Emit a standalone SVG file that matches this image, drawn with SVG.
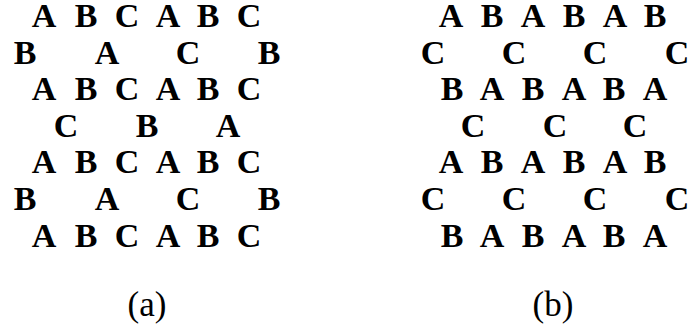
<svg xmlns="http://www.w3.org/2000/svg" width="691" height="331" viewBox="0 0 691 331">
<style>
.l{font-family:"Liberation Serif","DejaVu Serif",serif;font-weight:bold;font-size:34px;text-anchor:middle;fill:#000}
.c{font-family:"Liberation Serif","DejaVu Serif",serif;font-size:35px;text-anchor:middle;fill:#000}
</style>
<rect width="691" height="331" fill="#fff"/>
<g id="panel-a">
<text class="l" y="27"><tspan x="44">A</tspan><tspan x="86">B</tspan><tspan x="127">C</tspan><tspan x="168">A</tspan><tspan x="208">B</tspan><tspan x="249">C</tspan></text>
<text class="l" y="64"><tspan x="25">B</tspan><tspan x="107">A</tspan><tspan x="188">C</tspan><tspan x="269">B</tspan></text>
<text class="l" y="100"><tspan x="44">A</tspan><tspan x="86">B</tspan><tspan x="127">C</tspan><tspan x="168">A</tspan><tspan x="208">B</tspan><tspan x="249">C</tspan></text>
<text class="l" y="137"><tspan x="66">C</tspan><tspan x="147">B</tspan><tspan x="228">A</tspan></text>
<text class="l" y="173"><tspan x="44">A</tspan><tspan x="86">B</tspan><tspan x="127">C</tspan><tspan x="168">A</tspan><tspan x="208">B</tspan><tspan x="249">C</tspan></text>
<text class="l" y="210"><tspan x="25">B</tspan><tspan x="107">A</tspan><tspan x="188">C</tspan><tspan x="269">B</tspan></text>
<text class="l" y="247"><tspan x="44">A</tspan><tspan x="86">B</tspan><tspan x="127">C</tspan><tspan x="168">A</tspan><tspan x="208">B</tspan><tspan x="249">C</tspan></text>
<text class="c" x="147" y="316">(a)</text>
</g>
<g id="panel-b">
<text class="l" y="27"><tspan x="451">A</tspan><tspan x="492">B</tspan><tspan x="533">A</tspan><tspan x="574">B</tspan><tspan x="615">A</tspan><tspan x="655">B</tspan></text>
<text class="l" y="64"><tspan x="433">C</tspan><tspan x="514">C</tspan><tspan x="595">C</tspan><tspan x="677">C</tspan></text>
<text class="l" y="100"><tspan x="452">B</tspan><tspan x="492">A</tspan><tspan x="533">B</tspan><tspan x="574">A</tspan><tspan x="614">B</tspan><tspan x="655">A</tspan></text>
<text class="l" y="137"><tspan x="473">C</tspan><tspan x="555">C</tspan><tspan x="635">C</tspan></text>
<text class="l" y="173"><tspan x="451">A</tspan><tspan x="492">B</tspan><tspan x="533">A</tspan><tspan x="574">B</tspan><tspan x="615">A</tspan><tspan x="655">B</tspan></text>
<text class="l" y="210"><tspan x="433">C</tspan><tspan x="514">C</tspan><tspan x="595">C</tspan><tspan x="677">C</tspan></text>
<text class="l" y="247"><tspan x="452">B</tspan><tspan x="492">A</tspan><tspan x="533">B</tspan><tspan x="574">A</tspan><tspan x="614">B</tspan><tspan x="655">A</tspan></text>
<text class="c" x="553" y="316">(b)</text>
</g>
</svg>
